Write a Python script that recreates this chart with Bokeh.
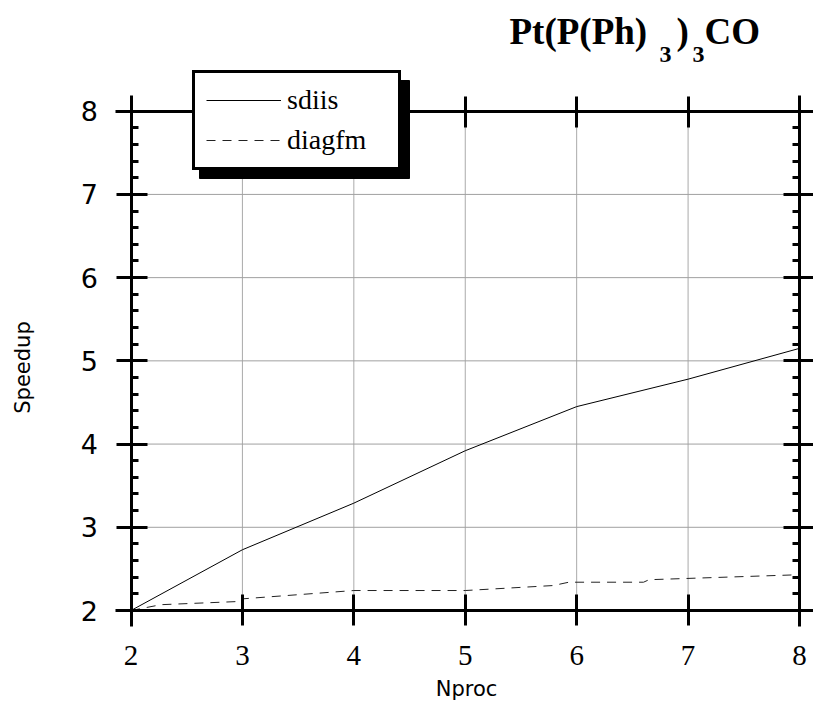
import math
from bokeh.plotting import figure
from bokeh.models import (Range1d, LinearAxis, SingleIntervalTicker, Legend,
                          LegendItem, Label)
from bokeh.embed import file_html
from bokeh.resources import INLINE

# ---------------- data ----------------
nproc = [2, 3, 4, 5, 6, 7, 8]
sdiis = [2.0, 2.73, 3.29, 3.92, 4.45, 4.78, 5.15]
diagfm_nproc = [2.0, 2.27, 3.0, 3.0, 4.0, 5.0, 5.79, 5.93, 6.6, 6.65, 8.0]
diagfm = [2.0, 2.07, 2.11, 2.14, 2.24, 2.24, 2.30, 2.34, 2.34, 2.37, 2.43]
x_ticks = [2, 3, 4, 5, 6, 7, 8]
y_ticks = [2, 3, 4, 5, 6, 7, 8]
grid_x = [3, 4, 5, 6, 7]
grid_y = [3, 4, 5, 6, 7]

# ---------------- geometry ----------------
W, H = 813, 704
X_LO, X_HI, PX_X_LO, PX_X_HI = 2, 8, 130.5, 799.0
Y_LO, Y_HI, PX_Y_LO, PX_Y_HI = 2, 8, 610.0, 110.7
SX = (PX_X_HI - PX_X_LO) / (X_HI - X_LO)
SY = (PX_Y_LO - PX_Y_HI) / (Y_HI - Y_LO)


def dx(px):
    return X_LO + (px - PX_X_LO) / SX


def dy(py):
    return Y_LO + (PX_Y_LO - py) / SY


p = figure(width=W, height=H, output_backend="svg", toolbar_location=None,
           tools="", x_range=Range1d(dx(0), dx(W)), y_range=Range1d(dy(H), dy(0)),
           x_axis_location=None, y_axis_location=None,
           min_border_left=0, min_border_right=0, min_border_top=0,
           min_border_bottom=0)
p.outline_line_color = None
p.background_fill_color = "white"
p.border_fill_color = "white"
p.grid.visible = False

# grid lines (within the data box only)
p.segment(x0=grid_x, y0=[Y_LO] * len(grid_x), x1=grid_x, y1=[Y_HI] * len(grid_x),
          line_color="#aaaaaa", line_width=1)
p.segment(x0=[X_LO] * len(grid_y), y0=grid_y, x1=[X_HI] * len(grid_y), y1=grid_y,
          line_color="#a0a0a0", line_width=1)

# data
r1 = p.line(nproc, sdiis, line_color="black", line_width=1)
r2 = p.line(diagfm_nproc, diagfm, line_color="#222222", line_width=1,
            line_dash="9 7")

# ---------------- axes ----------------
xb = (dx(115), dx(W))
yb = (dy(626), dy(95))


def style(ax, minor):
    ax.axis_line_width = 3
    ax.axis_line_color = "black"
    ax.major_tick_line_width = 3
    ax.major_tick_line_color = "black"
    ax.major_tick_in = 16
    ax.major_tick_out = 15
    ax.minor_tick_line_width = 3
    ax.minor_tick_line_color = "black" if minor else None
    ax.minor_tick_in = 7
    ax.minor_tick_out = 0


left = LinearAxis(fixed_location=X_LO, bounds=yb,
                  ticker=SingleIntervalTicker(interval=1, num_minor_ticks=5))
style(left, True)
left.major_label_text_font = "DejaVu Sans"
left.major_label_text_font_size = "27px"
left.major_label_text_color = "black"
left.major_label_standoff = 18
p.add_layout(left, "left")

right = LinearAxis(fixed_location=X_HI, bounds=yb,
                   ticker=SingleIntervalTicker(interval=1, num_minor_ticks=5))
style(right, True)
right.major_label_overrides = {t: "" for t in y_ticks}
p.add_layout(right, "right")

bottom = LinearAxis(fixed_location=Y_LO, bounds=xb,
                    ticker=SingleIntervalTicker(interval=1, num_minor_ticks=0))
style(bottom, False)
bottom.major_label_text_font = "Liberation Serif"
bottom.major_label_text_font_size = "29px"
bottom.major_label_text_color = "black"
bottom.major_label_standoff = 20
p.add_layout(bottom, "below")

top = LinearAxis(fixed_location=Y_HI, bounds=xb,
                 ticker=SingleIntervalTicker(interval=1, num_minor_ticks=0))
style(top, False)
top.major_label_overrides = {t: "" for t in x_ticks}
p.add_layout(top, "above")

# axis titles (anchor compensates Bokeh's baseline placement)
p.add_layout(Label(x=dx(22), y=dy(367), text="Speedup", angle=math.pi / 2,
                   text_align="center", text_baseline="alphabetic",
                   text_font="DejaVu Sans", text_font_size="21px",
                   text_color="black"))
p.add_layout(Label(x=dx(466), y=dy(688), text="Nproc", text_align="center",
                   text_baseline="alphabetic", text_font="DejaVu Sans",
                   text_font_size="21px", text_color="black"))

# title with subscripts
title_parts = [("Pt(P(Ph)", 509, 31, "37px"), ("3", 659, 54, "24px"),
               (")", 676, 31, "37px"), ("3", 692, 54, "24px"),
               ("CO", 704, 31, "37px")]
for txt, px, py, fs in title_parts:
    p.add_layout(Label(x=dx(px), y=dy(py), text=txt, text_align="left",
                       text_baseline="alphabetic", text_font="Liberation Serif",
                       text_font_style="bold", text_font_size=fs,
                       text_color="black"))

# legend shadow
p.quad(left=[dx(199)], right=[dx(409)], top=[dy(80)], bottom=[dy(178)],
       fill_color="black", line_color="black")

legend = Legend(items=[LegendItem(label="sdiis", renderers=[r1]),
                       LegendItem(label="diagfm", renderers=[r2])],
                location=(192, H - 170), border_line_color="black",
                border_line_alpha=1.0, border_line_width=3,
                background_fill_color="white",
                background_fill_alpha=1.0, padding=11, spacing=8,
                glyph_width=75, glyph_height=20, label_standoff=6,
                label_width=100,
                label_text_font="Liberation Serif", label_text_font_size="28px",
                label_text_color="black", margin=0)
p.add_layout(legend)

open("out.html", "w").write(file_html(p, INLINE))
